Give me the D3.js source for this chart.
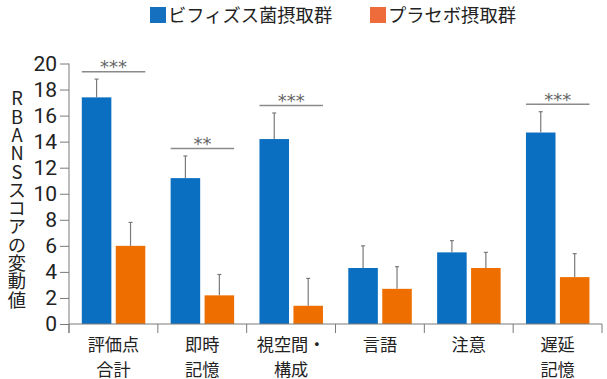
<!DOCTYPE html>
<html><head><meta charset="utf-8">
<script src="https://cdn.jsdelivr.net/npm/d3@7"></script>
<style>
html,body{margin:0;padding:0;background:#fff;}
svg{display:block;font-family:"Noto Sans CJK JP","Noto Sans",sans-serif;}
</style></head>
<body><svg id="c" width="607" height="379"></svg>
<script>
const categories = ["評価点\n合計", "即時\n記憶", "視空間・\n構成", "言語", "注意", "遅延\n記憶"];
const seriesNames = ["ビフィズス菌摂取群", "プラセボ摂取群"];
const bifidoValues = [17.4, 11.2, 14.2, 4.3, 5.5, 14.7];
const bifidoErrors = [1.4, 1.7, 2.0, 1.7, 0.9, 1.6];
const placeboValues = [6.0, 2.2, 1.4, 2.7, 4.3, 3.6];
const placeboErrors = [1.8, 1.6, 2.1, 1.7, 1.2, 1.8];
const significance = ["***", "**", "***", "", "", "***"];
const yTicks = [0, 2, 4, 6, 8, 10, 12, 14, 16, 18, 20];
const yTitle = "RBANSスコアの変動値";

const barColors = ["#0a6fc1", "#ee6f00"];
const legendColors = ["#1570c0", "#ee6c3c"];
const axisColor = "#7a7a7a";

const svg = d3.select("#c");
const y = d3.scaleLinear().domain([0, 20]).range([324, 63.5]);
const x0 = d3.scaleBand().domain(categories).range([69, 602]).paddingInner(0).paddingOuter(0);
const x1 = d3.scaleBand().domain([0, 1]).range([12.8, 76.3]).paddingInner(0.13);

const data = categories.map((c, i) => ({
  cat: c,
  vals: [
    {s: 0, v: bifidoValues[i], e: bifidoErrors[i]},
    {s: 1, v: placeboValues[i], e: placeboErrors[i]}
  ],
  sig: significance[i]
}));

// bars
const g = svg.append("g");
const groups = g.selectAll("g.cat").data(data).join("g")
  .attr("transform", d => `translate(${x0(d.cat)},0)`);
groups.selectAll("rect").data(d => d.vals).join("rect")
  .attr("x", d => x1(d.s))
  .attr("width", x1.bandwidth())
  .attr("y", d => y(d.v))
  .attr("height", d => y(0) - y(d.v))
  .attr("fill", d => barColors[d.s]);
// error bars
groups.selectAll("line.err").data(d => d.vals).join("line")
  .attr("class", "err")
  .attr("x1", d => x1(d.s) + x1.bandwidth() / 2)
  .attr("x2", d => x1(d.s) + x1.bandwidth() / 2)
  .attr("y1", d => y(d.v))
  .attr("y2", d => y(d.v + d.e))
  .attr("stroke", axisColor).attr("stroke-width", 1.2);
groups.selectAll("line.cap").data(d => d.vals).join("line")
  .attr("class", "cap")
  .attr("x1", d => x1(d.s) + x1.bandwidth() / 2 - 2)
  .attr("x2", d => x1(d.s) + x1.bandwidth() / 2 + 2)
  .attr("y1", d => y(d.v + d.e))
  .attr("y2", d => y(d.v + d.e))
  .attr("stroke", axisColor).attr("stroke-width", 1.2);

// significance
const sigG = groups.filter(d => d.sig);
sigG.append("line")
  .attr("x1", x1(0)).attr("x2", x1(1) + x1.bandwidth())
  .attr("y1", d => y(d.vals[0].v + d.vals[0].e) - 7.5)
  .attr("y2", d => y(d.vals[0].v + d.vals[0].e) - 7.5)
  .attr("stroke", "#8a8a8a").attr("stroke-width", 1.5);
sigG.append("text")
  .attr("x", (x1(0) + x1(1) + x1.bandwidth()) / 2)
  .attr("y", d => y(d.vals[0].v + d.vals[0].e) - 7.5 + 1.5)
  .attr("text-anchor", "middle")
  .attr("font-family", "DejaVu Sans")
  .attr("font-size", 18)
  .attr("fill", "#666")
  .text(d => d.sig);

// y axis
const yAxis = d3.axisLeft(y).tickValues(yTicks).tickSize(9).tickPadding(3).tickFormat(d3.format("d"));
const ya = svg.append("g").attr("transform", "translate(69,0)").call(yAxis);
ya.select(".domain").attr("stroke", axisColor).attr("d", `M0,${y(20)}V${y(0) + 9}`);
ya.selectAll(".tick line").attr("stroke", axisColor);
ya.selectAll(".tick text").attr("font-size", 21).attr("fill", "#222")
  .attr("font-family", "Roboto");

// x axis
const xa = svg.append("g");
xa.append("line").attr("x1", x0.range()[0]).attr("x2", x0.range()[1])
  .attr("y1", y(0)).attr("y2", y(0)).attr("stroke", axisColor);
const bounds = categories.map(c => x0(c)).concat([x0.range()[1]]);
xa.selectAll("line.sep").data(bounds).join("line").attr("class", "sep")
  .attr("x1", d => d).attr("x2", d => d)
  .attr("y1", y(0)).attr("y2", y(0) + 9).attr("stroke", axisColor);
const labelLines = [];
categories.forEach(c => c.split("\n").forEach((t, i) => labelLines.push({cat: c, t, i})));
xa.selectAll("text.cat").data(labelLines).join("text").attr("class", "cat")
  .attr("x", d => x0(d.cat) + x0.bandwidth() / 2)
  .attr("y", d => 350.5 + d.i * 25)
  .attr("text-anchor", "middle")
  .attr("font-size", 17.2)
  .attr("fill", "#222")
  .text(d => d.t);

// y title
svg.append("text")
  .attr("x", 17).attr("y", 199)
  .attr("text-anchor", "middle")
  .attr("font-size", 18.3)
  .attr("fill", "#222")
  .style("writing-mode", "vertical-rl")
  .style("text-orientation", "upright")
  .text(yTitle);

// legend
const legendX = [150, 370];
const lg = svg.append("g").selectAll("g").data(seriesNames).join("g")
  .attr("transform", (d, i) => `translate(${legendX[i]},0)`);
lg.append("rect").attr("x", 0).attr("y", 7).attr("width", 16).attr("height", 16)
  .attr("fill", (d, i) => legendColors[i]);
lg.append("text").attr("x", 18).attr("y", 22)
  .attr("font-size", 18.3).attr("fill", "#222").text(d => d);
</script></body></html>
